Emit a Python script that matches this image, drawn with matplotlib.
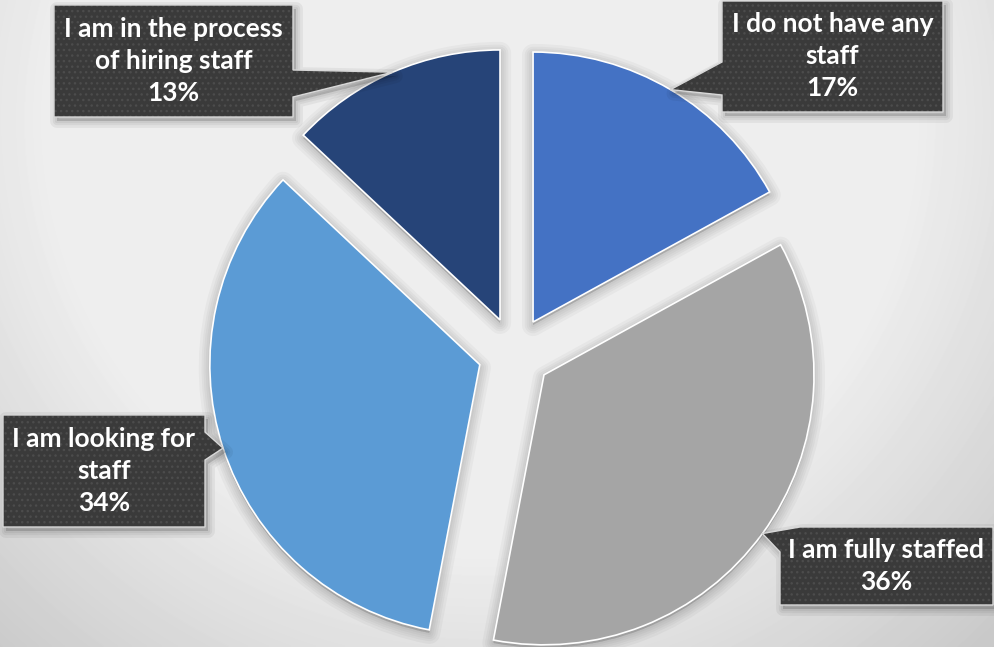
import numpy as np
import matplotlib
matplotlib.use('Agg')
import matplotlib.pyplot as plt
import matplotlib.patches as mpatches

# survey answers, clockwise from 12 o'clock
labels = ['I do not have any\nstaff', 'I am fully staffed',
          'I am looking for\nstaff', 'I am in the process\nof hiring staff']
shares = [17, 36, 34, 13]
colors = ['#4472C4', '#A5A5A5', '#5B9BD5', '#264478']

W, H = 994, 647
CX, CY, R = 514.5, 353.4, 270.0     # pie centre / radius in pixels


def px(x, y):
    """pixel position (y down) -> data units of the pie (radius 1)"""
    return (x - CX) / R, (CY - y) / R


# callout boxes: (left, top, right, bottom) in px, pointer base a -> c (clockwise)
boxes = [
    ((722, 1, 943, 112), (722, 95), (722, 62)),
    ((780, 527, 993, 605), (780, 552), (800, 527)),
    ((3, 415, 205, 527), (205, 432), (205, 460)),
    ((54, 5, 293, 117), (293, 70), (293, 97)),
]


def perim(l, t, r, b, p):
    x, y = p
    w, h = r - l, b - t
    if y == t:
        return x - l
    if x == r:
        return w + (y - t)
    if y == b:
        return w + h + (r - x)
    return 2 * w + h + (b - y)


def callout_verts(rect, a, c, tip):
    l, t, r, b = rect
    w, h = r - l, b - t
    total = 2 * w + 2 * h
    corners = [((l, t), 0), ((r, t), w), ((r, b), w + h), ((l, b), 2 * w + h)]
    sa, sc = perim(l, t, r, b, a), perim(l, t, r, b, c)
    span = (sa - sc) % total
    mid = sorted([(((s - sc) % total), p) for p, s in corners
                  if 0 < (s - sc) % total < span])
    pts = [px(*c)] + [px(*p) for _, p in mid] + [px(*a)]
    return pts + [tip]


fig = plt.figure(figsize=(W / 100, H / 100), dpi=100)
ax = fig.add_axes([0, 0, 1, 1])

x0, y1 = px(0, 0)
x1, y0 = px(W, H)

# soft grey backdrop, lighter towards the top middle
yy, xx = np.mgrid[0:H, 0:W]
dist = np.hypot(xx - 480, yy - 120)
grad = np.clip(0.90 - 0.00049 * (dist - 500), 0.0, 0.93)
ax.imshow(grad, extent=[x0, x1, y0, y1], cmap='gray', vmin=0, vmax=1,
          origin='upper', aspect='auto', zorder=0, interpolation='bilinear')

wedges, _ = ax.pie(shares, explode=[0.135] * len(shares), colors=colors,
                   startangle=90, counterclock=False, radius=1,
                   wedgeprops=dict(edgecolor='white', linewidth=1.2, zorder=3))

# blurry drop shadow under each slice
for w in wedges:
    cx, cy = w.center
    for lw in [16, 12, 9, 6, 3]:
        ax.add_patch(mpatches.Wedge((cx, cy - 3 / R), w.r, w.theta1, w.theta2,
                                    facecolor=(0, 0, 0, 0.03),
                                    edgecolor=(0, 0, 0, 0.03),
                                    linewidth=lw, joinstyle='round', zorder=2))

for w, lab, val, (rect, a, c) in zip(wedges, labels, shares, boxes):
    thm = np.deg2rad((w.theta1 + w.theta2) / 2)
    tip = (w.center[0] + w.r * np.cos(thm), w.center[1] + w.r * np.sin(thm))
    verts = callout_verts(rect, a, c, tip)
    sh = [(vx + 3 / R, vy - 4 / R) for vx, vy in verts]
    for lw in [10, 6, 3]:
        ax.add_patch(mpatches.Polygon(sh, closed=True, facecolor=(0, 0, 0, 0.05),
                                      edgecolor=(0, 0, 0, 0.05), linewidth=lw,
                                      joinstyle='round', zorder=4))
    ax.add_patch(mpatches.Polygon(verts, closed=True, facecolor='#3a3a3a',
                                  edgecolor='none', zorder=5))
    ax.add_patch(mpatches.Polygon(verts, closed=True, facecolor='none',
                                  edgecolor='#4c4c4c', hatch='...',
                                  linewidth=0, zorder=5.5))
    ax.add_patch(mpatches.Polygon(verts, closed=True, facecolor='none',
                                  edgecolor='#d8d8d8', linewidth=1.0, zorder=6))
    l, t, r, b = rect
    tx, ty = px((l + r) / 2, (t + b) / 2)
    ax.text(tx, ty, f'{lab}\n{val}%', ha='center', va='center', color='white',
            fontsize=19, fontweight='bold', family='Lato', linespacing=1.4,
            zorder=7)

ax.set_xlim(x0, x1)
ax.set_ylim(y0, y1)
ax.set_aspect('auto')
ax.axis('off')

fig.savefig('out.png', dpi=100)
